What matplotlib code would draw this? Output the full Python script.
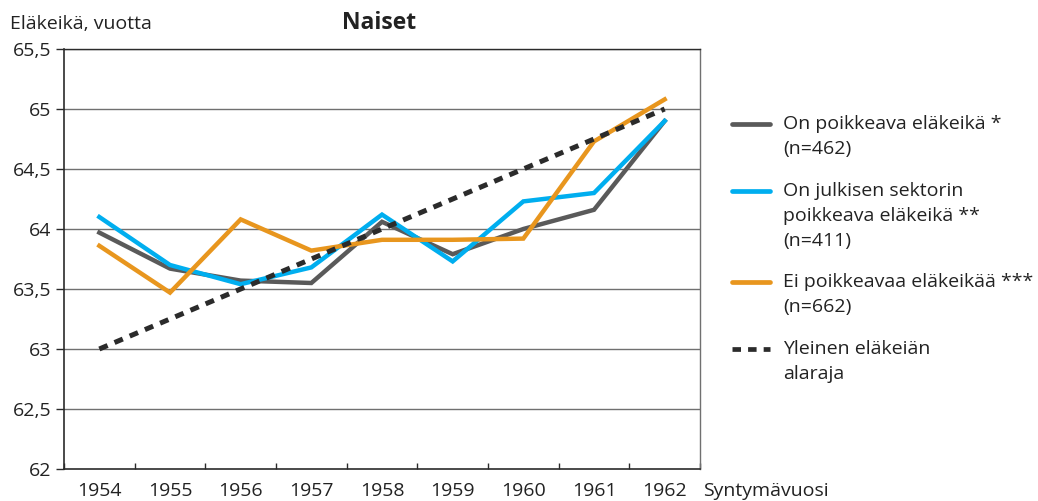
import matplotlib
matplotlib.use("Agg")
import matplotlib.pyplot as plt
from matplotlib.lines import Line2D

plt.rcParams['font.family'] = ['Open Sans', 'DejaVu Sans']

# Data
years = ['1954', '1955', '1956', '1957', '1958', '1959', '1960', '1961', '1962']
poikkeava = [63.97, 63.67, 63.57, 63.55, 64.06, 63.79, 64.0, 64.16, 64.9]
julkinen = [64.1, 63.7, 63.54, 63.68, 64.12, 63.73, 64.23, 64.3, 64.9]
ei_poikkeava = [63.86, 63.47, 64.08, 63.82, 63.91, 63.91, 63.92, 64.73, 65.08]
alaraja = [63.0, 63.25, 63.5, 63.75, 64.0, 64.25, 64.5, 64.75, 65.0]

y_ticks = [62, 62.5, 63, 63.5, 64, 64.5, 65, 65.5]
y_labels = ['62', '62,5', '63', '63,5', '64', '64,5', '65', '65,5']

legend_labels = [
    ['On poikkeava eläkeikä *', '(n=462)'],
    ['On julkisen sektorin', 'poikkeava eläkeikä **', '(n=411)'],
    ['Ei poikkeavaa eläkeikää ***', '(n=662)'],
    ['Yleinen eläkeiän', 'alaraja'],
]

GRAY = '#5a5a5a'
BLUE = '#00aeef'
ORANGE = '#e8961e'
DARK = '#2b2b2b'
GRID = '#707070'
TXT = '#222222'
FS = 14

fig = plt.figure(figsize=(10.38, 5.01), dpi=100)
ax = fig.add_axes([64 / 1038, 32 / 501, 636 / 1038, 420 / 501])

x = list(range(len(years)))
lw = 3.2
dash = (1.8, 1.5)
ax.plot(x, alaraja, color=DARK, lw=3.6, dashes=dash, dash_capstyle='butt', zorder=5)
ax.plot(x, poikkeava, color=GRAY, lw=lw, solid_joinstyle='miter', zorder=3)
ax.plot(x, julkinen, color=BLUE, lw=lw, solid_joinstyle='miter', zorder=4)
ax.plot(x, ei_poikkeava, color=ORANGE, lw=lw, solid_joinstyle='miter', zorder=4)

ax.set_xlim(-0.5, len(years) - 0.5)
ax.set_ylim(62, 65.5)

# y axis
ax.set_yticks(y_ticks)
ax.set_yticklabels(y_labels, fontsize=FS, color=TXT)
ax.tick_params(axis='y', direction='out', length=6, width=1, color=DARK, pad=3)
for yv in y_ticks[1:]:
    ax.axhline(yv, color=GRID, lw=1, zorder=1)

# x axis: labels at category centers, ticks at boundaries
ax.set_xticks(x)
ax.set_xticklabels(years, fontsize=FS, color=TXT)
ax.tick_params(axis='x', which='major', length=0, pad=9)
ax.set_xticks([i - 0.5 for i in range(len(years) + 1)], minor=True)
ax.tick_params(axis='x', which='minor', direction='in', length=4, width=1, color=DARK)

for side in ['left', 'bottom']:
    ax.spines[side].set_color(DARK)
    ax.spines[side].set_linewidth(1.2)
ax.spines['right'].set_color(GRID)
ax.spines['right'].set_linewidth(1)
ax.spines['top'].set_color(DARK)
ax.spines['top'].set_linewidth(1)

fig.text(10 / 1038, 1 - 24 / 501, 'Eläkeikä, vuotta', fontsize=FS, color=TXT, va='center', ha='left')
fig.text(379 / 1038, 1 - 23 / 501, 'Naiset', fontsize=16.5, fontweight='bold', color=TXT, va='center', ha='center')
fig.text(703 / 1038, 1 - 491 / 501, 'Syntymävuosi', fontsize=FS, color=TXT, va='center', ha='left')

# legend drawn manually
handle_styles = [
    dict(color=GRAY),
    dict(color=BLUE),
    dict(color=ORANGE),
    dict(color=DARK, dashes=dash, dash_capstyle='butt'),
]
first_line_y = [124, 191, 282, 349]
line_gap = 25
for style, lines, y0 in zip(handle_styles, legend_labels, first_line_y):
    yf = 1 - y0 / 501
    fig.add_artist(Line2D([732 / 1038, 770 / 1038], [yf, yf], lw=3.4,
                          solid_capstyle='round', transform=fig.transFigure, **style))
    for i, txt in enumerate(lines):
        fig.text(783 / 1038, 1 - (y0 + i * line_gap) / 501, txt, fontsize=FS,
                 color=TXT, va='center', ha='left')

fig.savefig('out.png', dpi=100)
